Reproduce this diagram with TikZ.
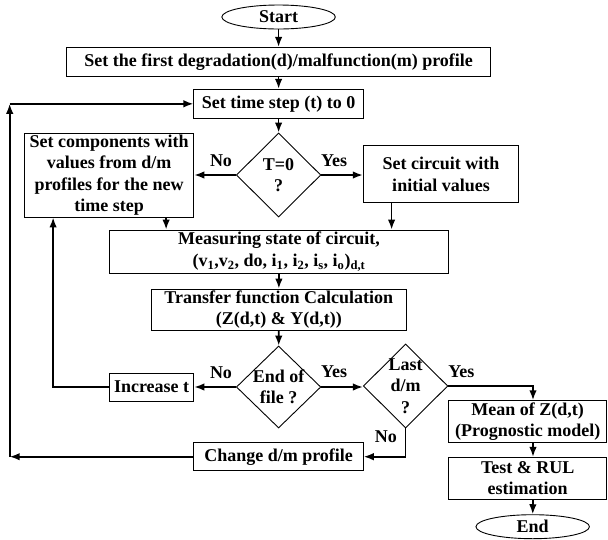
\documentclass[tikz,border=0pt]{standalone}
\usepackage{fontspec}
\setmainfont{Liberation Serif}
\usetikzlibrary{shapes.geometric,arrows.meta}
\tikzset{
  every node/.style={font=\fontsize{18}{21.5}\selectfont\bfseries},
  box/.style={draw,line width=0.9pt,rectangle,inner sep=0pt,align=center},
  dia/.style={draw,line width=0.9pt,diamond,inner sep=0pt,minimum width=84.5pt,minimum height=84pt},
  term/.style={draw,line width=0.9pt,ellipse,inner sep=0pt,minimum width=113.5pt,minimum height=24pt},
  lbl/.style={inner sep=0pt},
  arr/.style={line width=1.7pt,-{Latex[length=10pt,width=7.5pt]}},
}
\begin{document}
\begin{tikzpicture}[x=1pt,y=-1pt]
\useasboundingbox (0,0) rectangle (608,539);
\node[term] (start) at (278.6,17) {Start};
\node[box,minimum width=424pt,minimum height=28.7pt] (prof) at (278.6,61.7) {Set the first degradation(d)/malfunction(m) profile};
\node[box,minimum width=169.4pt,minimum height=29pt] (ts) at (278.6,103.8) {Set time step (t) to 0};
\node[dia] (d1) at (278.6,175) {};
\node[lbl,align=center] (d1t) at (d1) {T=0\\?};
\node[box,minimum width=169.5pt,minimum height=84pt] (lb) at (109.1,175) {Set components with\\values from d/m\\profiles for the new\\time step};
\node[box,minimum width=155.5pt,minimum height=57pt] (rb) at (441,174.2) {Set circuit with\\initial values};
\node[box,minimum width=339.3pt,minimum height=43.3pt] (meas) at (279,251.7) {Measuring state of circuit,\\(v\textsubscript{1},v\textsubscript{2}, do, i\textsubscript{1}, i\textsubscript{2}, i\textsubscript{s}, i\textsubscript{o})\textsubscript{d,t}};
\node[box,minimum width=255.2pt,minimum height=41.3pt] (tr) at (278.8,309.7) {Transfer function Calculation\\(Z(d,t) \& Y(d,t))};
\node[dia,minimum height=82pt] (d2) at (278.6,387) {};
\node[lbl,align=center] (d2t) at (d2) {End of\\file ?};
\node[box,minimum width=84.6pt,minimum height=28pt] (inc) at (151.6,387) {Increase t};
\node[dia] (d3) at (405.6,386) {};
\node[lbl,align=center] (d3t) at (d3) {Last\\d/m\\?};
\node[box,minimum width=158.2pt,minimum height=42pt] (mean) at (527.7,421.7) {Mean of Z(d,t)\\(Prognostic model)};
\node[box,minimum width=158.2pt,minimum height=41.7pt] (test) at (527.7,478.2) {Test \& RUL\\estimation};
\node[term] (end) at (532.7,526.7) {End};
\node[box,minimum width=169.4pt,minimum height=28pt] (chg) at (278.6,456.7) {Change d/m profile};
\coordinate (c1) at (9.7,456.7);
\coordinate (c2) at (9.7,103.8);
% labels
\node[lbl] (n1) at (221,161) {No};
\node[lbl] (y1) at (334,161) {Yes};
\node[lbl] (n2) at (221,373) {No};
\node[lbl] (y2) at (334,372) {Yes};
\node[lbl] (y3) at (461.4,372) {Yes};
\node[lbl] (n3) at (385.8,437) {No};
% connectors
\draw[arr] (start) -- (prof);
\draw[arr] (prof) -- (ts);
\draw[arr] (ts) -- (d1);
\draw[arr] (d1.west) -- (lb.east |- d1.west);
\draw[arr] (d1.east) -- (rb.west |- d1.east);
\draw[arr] ([xshift=-49.4pt]rb.south) -- ([xshift=-49.4pt]rb.south |- meas.north);
\draw[arr] ([xshift=57pt]lb.south) -- ([xshift=57pt]lb.south |- meas.north);
\draw[arr] (meas) -- (tr);
\draw[arr] (tr) -- (d2);
\draw[arr] (d2.west) -- (inc.east);
\draw[arr] (inc.west) -| ([xshift=-56pt]lb.south);
\draw[arr] (d2.east) -- (d3.west |- d2.east);
\draw[arr] (d3.east) -| ([xshift=5.3pt]mean.north);
\draw[arr] ([xshift=5.3pt]mean.south) -- ([xshift=5.3pt]test.north);
\draw[arr] ([xshift=5.3pt]test.south) -- (end.north);
\draw[arr] (d3.south) |- (chg.east);
\draw[arr] (chg.west) -- (c1);
\draw[arr] (c1) -- (c2);
\draw[arr] (c2) -- (ts.west);
\end{tikzpicture}
\end{document}
